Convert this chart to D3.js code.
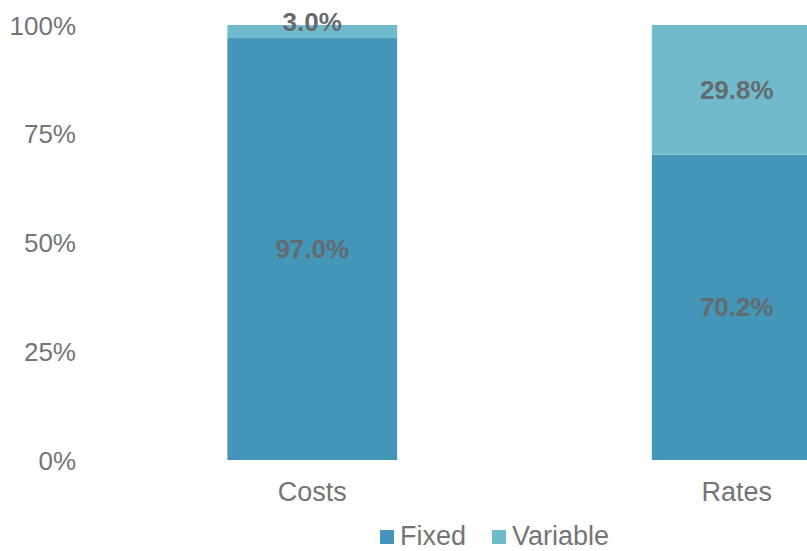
<!DOCTYPE html>
<html>
<head>
<meta charset="utf-8">
<script src="https://cdn.jsdelivr.net/npm/d3@7/dist/d3.min.js"></script>
<style>
  html, body { margin: 0; padding: 0; background: #fff; }
  svg { display: block; font-family: "Liberation Sans", Arial, sans-serif; }
</style>
</head>
<body>
<svg id="chart" width="807" height="551"></svg>
<script>
// Share of each category split into fixed and variable parts (percent)
const categories = ["Costs", "Rates"];
const seriesNames = ["Fixed", "Variable"];
const fixedValues = [97.0, 70.2];
const variableValues = [3.0, 29.8];
const yTickValues = [0, 25, 50, 75, 100];
const seriesColors = ["#4396b8", "#70bacc"];

const svg = d3.select("#chart");

const rows = categories.map((c, i) => ({ category: c, Fixed: fixedValues[i], Variable: variableValues[i] }));
const stacked = d3.stack().keys(seriesNames)(rows);

const x = d3.scaleBand()
  .domain(categories)
  .range([100, 949])
  .paddingInner(0.6)
  .paddingOuter(0.3);

const y = d3.scaleLinear().domain([0, 100]).range([460, 25]);

const color = d3.scaleOrdinal().domain(seriesNames).range(seriesColors);

const textGrey = "#747474";

// Y axis labels (no line, no ticks)
const yAxis = d3.axisLeft(y)
  .tickValues(yTickValues)
  .tickFormat(d => d + "%")
  .tickSize(0)
  .tickPadding(0);
const yg = svg.append("g").attr("transform", "translate(76,0)").call(yAxis);
yg.select(".domain").remove();
yg.selectAll("text")
  .attr("font-family", "Liberation Sans, Arial, sans-serif")
  .attr("font-size", 26)
  .attr("fill", textGrey)
  .attr("dy", "0.35em");

// X axis category labels
const xAxis = d3.axisBottom(x).tickSize(0).tickPadding(0);
const xg = svg.append("g").attr("transform", "translate(0,482)").call(xAxis);
xg.select(".domain").remove();
xg.selectAll("text")
  .attr("font-family", "Liberation Sans, Arial, sans-serif")
  .attr("font-size", 27)
  .attr("fill", textGrey)
  .attr("dy", "0.7em");

// Stacked bars
const layers = svg.append("g").selectAll("g")
  .data(stacked)
  .join("g")
  .attr("fill", d => color(d.key));

layers.selectAll("rect")
  .data(d => d)
  .join("rect")
  .attr("x", d => x(d.data.category))
  .attr("width", x.bandwidth())
  .attr("y", d => y(d[1]))
  .attr("height", d => y(d[0]) - y(d[1]));

// Value labels centred in each segment; thin segments lift the label upward
const labels = [];
stacked.forEach(layer => {
  layer.forEach(d => {
    const v = d[1] - d[0];
    const segH = y(d[0]) - y(d[1]);
    let cy = (y(d[0]) + y(d[1])) / 2;
    if (segH < 24) cy -= 10;
    labels.push({ cx: x(d.data.category) + x.bandwidth() / 2, cy, text: v.toFixed(1) + "%" });
  });
});
svg.append("g").selectAll("text")
  .data(labels)
  .join("text")
  .attr("x", d => d.cx)
  .attr("y", d => d.cy)
  .attr("dy", "0.35em")
  .attr("text-anchor", "middle")
  .attr("font-size", 26)
  .attr("font-weight", "bold")
  .attr("fill", "#646a6e")
  .text(d => d.text);

// Legend
const legendItems = [
  { key: "Fixed", sx: 380, tx: 400 },
  { key: "Variable", sx: 492, tx: 512 }
];
const lg = svg.append("g");
lg.selectAll("rect")
  .data(legendItems)
  .join("rect")
  .attr("x", d => d.sx)
  .attr("y", 530)
  .attr("width", 14)
  .attr("height", 14)
  .attr("fill", d => color(d.key));
lg.selectAll("text")
  .data(legendItems)
  .join("text")
  .attr("x", d => d.tx)
  .attr("y", 545)
  .attr("font-size", 27)
  .attr("fill", textGrey)
  .text(d => d.key);
</script>
</body>
</html>
